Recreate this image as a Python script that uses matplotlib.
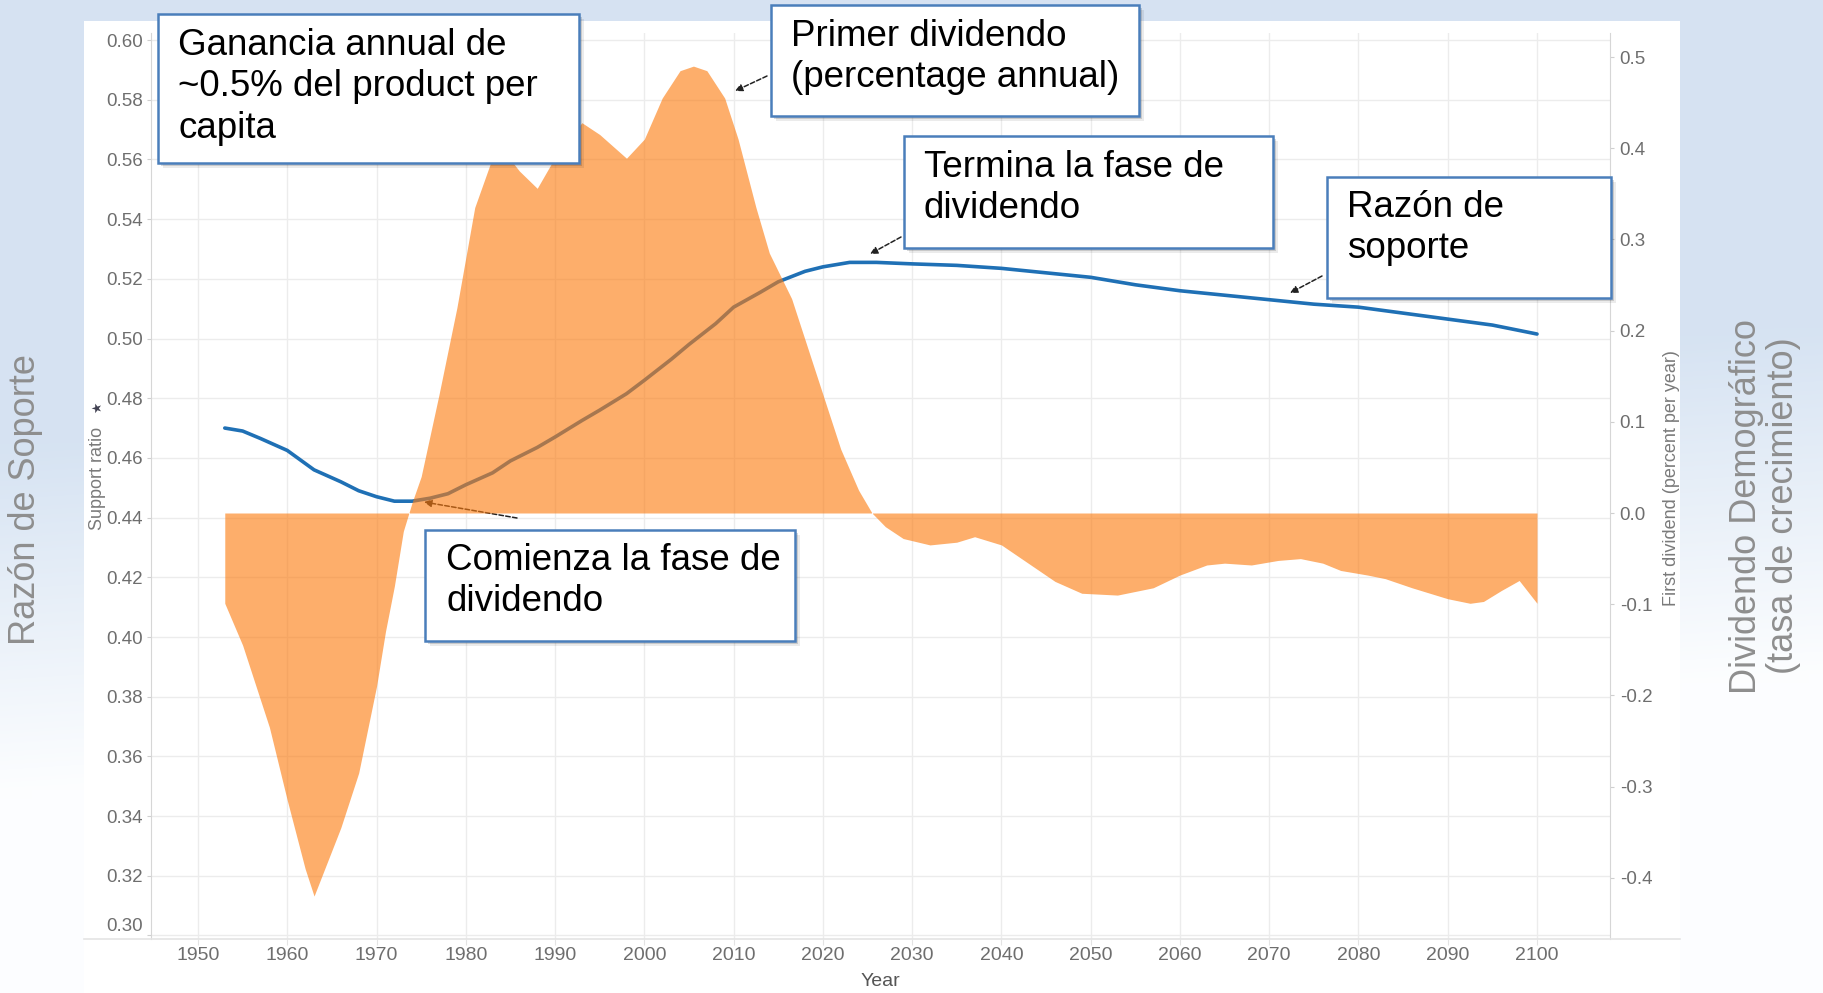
import numpy as np
import matplotlib.pyplot as plt
from matplotlib.patches import Rectangle, Circle

W, H = 1823, 993

# Razón de soporte (eje izquierdo)
ratio_years = [1953, 1955, 1957, 1960, 1963, 1966, 1968, 1970, 1972, 1974, 1976, 1978,
               1980, 1983, 1985, 1988, 1990, 1993, 1995, 1998, 2000, 2003, 2005, 2008,
               2010, 2013, 2015, 2018, 2020, 2023, 2026, 2030, 2035, 2040, 2045, 2050,
               2055, 2060, 2065, 2070, 2075, 2080, 2085, 2090, 2095, 2100]
ratio_vals = [0.470, 0.469, 0.4665, 0.4625, 0.456, 0.452, 0.449, 0.447, 0.4455, 0.4455,
              0.4465, 0.448, 0.451, 0.455, 0.459, 0.4635, 0.467, 0.4725, 0.476, 0.4815,
              0.486, 0.493, 0.498, 0.505, 0.5105, 0.5155, 0.519, 0.5225, 0.524, 0.5255,
              0.5255, 0.525, 0.5245, 0.5235, 0.522, 0.5205, 0.518, 0.516, 0.5145, 0.513,
              0.5115, 0.5105, 0.5085, 0.5065, 0.5045, 0.5015]

# Primer dividendo (eje derecho, % anual)
div_years = [1953, 1955, 1958, 1960, 1962, 1963, 1964, 1966, 1968, 1970, 1971, 1972,
             1973, 1974, 1975, 1977, 1979, 1981, 1983, 1984, 1986, 1988, 1990, 1993,
             1995, 1998, 2000, 2002, 2004, 2005.5, 2007, 2009, 2010.5, 2012.5, 2014,
             2016.5, 2018, 2020, 2022, 2024, 2025.5, 2027, 2029, 2032, 2035, 2037,
             2040, 2043, 2046, 2049, 2053, 2057, 2060, 2063, 2065, 2068, 2071, 2073.5,
             2076, 2078, 2081, 2083, 2086, 2088, 2090, 2092.5, 2094, 2096, 2098, 2100]
div_vals = [-0.099, -0.145, -0.235, -0.315, -0.39, -0.42, -0.395, -0.345, -0.285, -0.19,
            -0.13, -0.08, -0.02, 0.012, 0.04, 0.13, 0.225, 0.335, 0.39, 0.40,
            0.375, 0.356, 0.39, 0.428, 0.415, 0.389, 0.41, 0.455, 0.485, 0.49, 0.485,
            0.455, 0.41, 0.335, 0.285, 0.235, 0.19, 0.13, 0.07, 0.025, 0.0, -0.015,
            -0.028, -0.035, -0.032, -0.026, -0.035, -0.055, -0.075, -0.088, -0.09,
            -0.082, -0.068, -0.057, -0.055, -0.057, -0.052, -0.050, -0.055, -0.063,
            -0.068, -0.072, -0.082, -0.088, -0.094, -0.099, -0.097, -0.085, -0.074,
            -0.099]

year_ticks = list(range(1950, 2101, 10))
left_ticks = [0.30, 0.32, 0.34, 0.36, 0.38, 0.40, 0.42, 0.44, 0.46, 0.48, 0.50,
              0.52, 0.54, 0.56, 0.58, 0.60]
left_labels = [f"{v:.2f}" for v in left_ticks]
right_ticks = [-0.4, -0.3, -0.2, -0.1, 0.0, 0.1, 0.2, 0.3, 0.4, 0.5]
right_labels = ["-0.4", "-0.3", "-0.2", "-0.1", "0.0", "0.1", "0.2", "0.3", "0.4", "0.5"]

BOX_FONT = ["Liberation Sans", "DejaVu Sans"]
TICK_FONT = ["Liberation Sans Narrow", "Liberation Sans", "DejaVu Sans"]


def fx(x):
    return x / W


def fy(y):
    return 1 - y / H


fig = plt.figure(figsize=(W / 100, H / 100), dpi=100)

# fondo degradado azul claro
bg = fig.add_axes([0, 0, 1, 1], zorder=-10)
gy, gx = np.mgrid[0:1:120j, 0:1:200j]
s = np.clip((gy - 0.45 + 0.12 * gx) / 0.35, 0, 1)[..., None]
blue = np.array([0.84, 0.89, 0.95])
img = blue * (1 - s) + np.array([0.99, 0.995, 1.0]) * s
bg.imshow(img, extent=[0, 1, 0, 1], aspect="auto", interpolation="bilinear")
bg.set_xlim(0, 1)
bg.set_ylim(0, 1)
bg.axis("off")

# panel blanco del gráfico
fig.patches.append(Rectangle((fx(84), 0), fx(1680) - fx(84), fy(21),
                             transform=fig.transFigure, facecolor="white",
                             edgecolor="none", zorder=-5))
fig.lines.append(plt.Line2D([fx(84), fx(1680)], [fy(939), fy(939)],
                            transform=fig.transFigure, color="#e4e4e4", lw=1.2))
fig.patches.append(Circle((fx(1733), fy(1012)), 26 / W, transform=fig.transFigure,
                          facecolor="#1a6fc4", edgecolor="none"))

ax_top, ax_bot = 33, 939
ax = fig.add_axes([fx(151), fy(ax_bot), fx(1610) - fx(151), (ax_bot - ax_top) / H])
ax.patch.set_alpha(0)
ax.set_xlim(1950 + (151 - 198) / 8.927, 2100 + (1610 - 1537) / 8.927)
ax.set_ylim(0.30 - (ax_bot - 935.5) * 0.02 / 59.67, 0.60 + (40 - ax_top) * 0.02 / 59.67)

ax.plot(ratio_years, ratio_vals, color="#1f70b5", lw=2.6, solid_capstyle="round", zorder=3)

ax.set_xticks(year_ticks)
ax.set_xticklabels([str(y) for y in year_ticks], family=TICK_FONT, fontsize=14, color="#6e6e6e")
ax.set_yticks(left_ticks)
ax.set_yticklabels(left_labels, family=TICK_FONT, fontsize=13.5, color="#6e6e6e")
ax.get_yticklabels()[0].set_va("bottom")
ax.grid(True, color="#ececec", lw=1.0)
ax.set_axisbelow(True)
ax.tick_params(axis="x", length=4, color="#e4e4e4", pad=2)
ax.tick_params(axis="y", length=3, color="#cfcfcf", pad=3)
for side in ["top", "bottom"]:
    ax.spines[side].set_visible(False)
ax.spines["left"].set_color("#d6d6d6")
ax.spines["right"].set_visible(False)

ax2 = ax.twinx()
ax2.set_ylim(-(ax_bot - 513) / 912, (513 - ax_top) / 912)
ax2.fill_between(div_years, 0, div_vals, color="#fc7c10", alpha=0.62, lw=0, zorder=2)
ax2.set_yticks(right_ticks)
ax2.set_yticklabels(right_labels, family=TICK_FONT, fontsize=13.5, color="#6e6e6e")
ax2.tick_params(axis="y", length=3, color="#cfcfcf", pad=4)
for side in ["top", "bottom", "left"]:
    ax2.spines[side].set_visible(False)
ax2.spines["right"].set_color("#d6d6d6")

# etiquetas pequeñas de los ejes originales
fig.text(fx(97), fy(478), "Support ratio", rotation=90, ha="center", va="center",
         fontsize=13, color="#7a7a7a", family=BOX_FONT)
fig.text(fx(98), fy(407), "\u2605", rotation=90, ha="center", va="center",
         fontsize=9, color="#404050")
fig.text(fx(1671), fy(478), "First dividend (percent per year)", rotation=90,
         ha="center", va="center", fontsize=13, color="#7a7a7a", family=BOX_FONT)
fig.text(fx(880), fy(982), "Year", ha="center", va="center", fontsize=14,
         color="#555555", family=TICK_FONT)

# títulos laterales
fig.text(fx(26), fy(500), "Razón de Soporte", rotation=90, ha="center", va="center",
         fontsize=26, color="#8e8e8e", family=BOX_FONT)
fig.text(fx(1765), fy(506), "Dividendo Demográfico\n(tasa de crecimiento)", rotation=90,
         ha="center", va="center", multialignment="center", linespacing=1.1,
         fontsize=26, color="#8e8e8e", family=BOX_FONT)

# recuadros de anotación (x0, y0, x1, y1 en píxeles, texto, x texto, y texto)
callouts = [
    ((158, 14, 579, 163), "Ganancia annual de\n~0.5% del product per\ncapita", 178, 87),
    ((771, 5, 1139, 116), "Primer dividendo\n(percentage annual)", 791, 57),
    ((904, 136, 1273, 248), "Termina la fase de\ndividendo", 924, 188),
    ((1327, 177, 1611, 298), "Razón de\nsoporte", 1347, 228),
    ((425, 530, 795, 641), "Comienza la fase de\ndividendo", 446, 581),
]
for (x0, y0, x1, y1), txt, tx, ty in callouts:
    for k, a in [(5, 0.08), (3, 0.14)]:
        fig.patches.append(Rectangle((fx(x0 + k), fy(y1 + k)), fx(x1) - fx(x0), (y1 - y0) / H,
                                     transform=fig.transFigure, facecolor="black",
                                     edgecolor="none", alpha=a, zorder=20))
    fig.patches.append(Rectangle((fx(x0), fy(y1)), fx(x1) - fx(x0), (y1 - y0) / H,
                                 transform=fig.transFigure, facecolor="white",
                                 edgecolor="#4a7ebb", lw=1.8, zorder=21))
    fig.text(fx(tx), fy(ty), txt, ha="left", va="center", fontsize=26.5, color="black",
             family=BOX_FONT, linespacing=1.24, zorder=22)

# flechas
arrows = [((767, 76), (735, 91)), ((901, 237), (870, 254)), ((1322, 276), (1290, 293)),
          ((517, 518), (424, 502))]
for (xs, ys), (xe, ye) in arrows:
    ax.annotate("", xy=(xe, H - ye), xytext=(xs, H - ys), xycoords="figure pixels",
                textcoords="figure pixels",
                arrowprops=dict(arrowstyle="-|>", color="#222222", lw=1.1,
                                linestyle=(0, (3, 1.5)), mutation_scale=11,
                                shrinkA=0, shrinkB=0), zorder=25)

fig.savefig("out.png", dpi=100)
